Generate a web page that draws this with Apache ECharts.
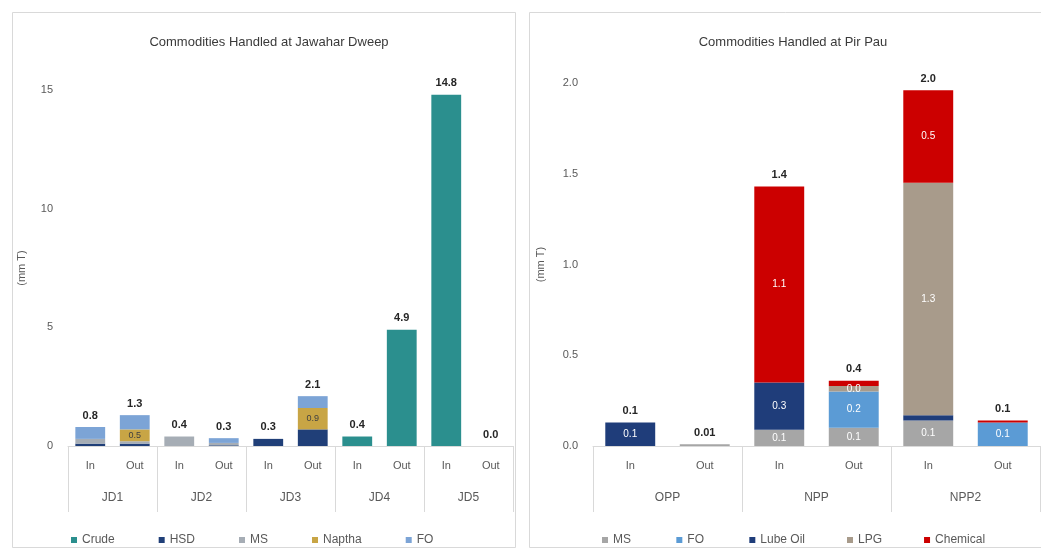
<!DOCTYPE html>
<html>
<head>
<meta charset="utf-8">
<script src="https://cdn.jsdelivr.net/npm/echarts@6/dist/echarts.min.js"></script>
<style>
html,body{margin:0;padding:0;background:#fff;}
#c{width:1041px;height:552px;}
</style>
</head>
<body>
<div id="c"></div>
<script>
// ---------- Data: Jawahar Dweep ----------
const jdSub = ['In','Out','In','Out','In','Out','In','Out','In','Out'];
const jdGroups = ['JD1','JD2','JD3','JD4','JD5'];
const jdCrude  = [0, 0, 0, 0, 0, 0, 0.4, 4.9, 14.8, 0];
const jdHSD    = [0.1, 0.1, 0, 0.03, 0.3, 0.7, 0, 0, 0, 0];
const jdMS     = [0.2, 0.1, 0.4, 0.1, 0, 0, 0, 0, 0, 0];
const jdNaptha = [0, 0.5, 0, 0, 0, 0.9, 0, 0, 0, 0];
const jdFO     = [0.5, 0.6, 0, 0.2, 0, 0.5, 0, 0, 0, 0];
const jdTicks  = [0, 5, 10, 15];

// ---------- Data: Pir Pau ----------
const ppSub = ['In','Out','In','Out','In','Out'];
const ppGroups = ['OPP','NPP','NPP2'];
const ppMS   = [0, 0.01, 0.09, 0.1, 0.14, 0];
const ppFO   = [0, 0, 0, 0.2, 0, 0.13];
const ppLube = [0.13, 0, 0.26, 0, 0.03, 0];
const ppLPG  = [0, 0, 0, 0.03, 1.28, 0];
const ppChem = [0, 0, 1.08, 0.03, 0.51, 0.01];
const ppTicks = [0, 0.5, 1.0, 1.5, 2.0];

const sumArr = (arrs) => arrs[0].map((_, i) => arrs.reduce((s, a) => s + a[i], 0));
const jdTotal = sumArr([jdCrude, jdHSD, jdMS, jdNaptha, jdFO]);
const ppTotal = sumArr([ppMS, ppFO, ppLube, ppLPG, ppChem]);

const FONT = 'Liberation Sans, Arial, sans-serif';
const TXT = '#595959';
const LINE = '#d9d9d9';

const chart = echarts.init(document.getElementById('c'), null, {renderer: 'canvas'});

function segSeries(name, data, color, xi, yi, stack, labelOpt) {
  return {
    name: name, type: 'bar', stack: stack, data: data,
    xAxisIndex: xi, yAxisIndex: yi,
    barCategoryGap: '33%',
    itemStyle: {color: color},
    label: labelOpt || {show: false},
    emphasis: {disabled: true}
  };
}

function totalSeries(totals, xi, yi, stack) {
  return {
    name: 'total', type: 'bar', stack: stack, data: totals.map(() => 0),
    xAxisIndex: xi, yAxisIndex: yi,
    barCategoryGap: '33%',
    itemStyle: {color: 'transparent'},
    label: {
      show: true, position: 'top', distance: 6,
      fontFamily: FONT, fontSize: 11, fontWeight: 'bold', color: '#262626',
      formatter: p => {
        const t = totals[p.dataIndex];
        return (t > 0 && t < 0.05) ? t.toFixed(2) : t.toFixed(1);
      }
    },
    emphasis: {disabled: true}
  };
}

const innerWhite = (minV) => ({
  show: true, position: 'inside', fontFamily: FONT, fontSize: 10, color: '#ffffff',
  formatter: p => (p.value >= minV ? p.value.toFixed(1) : '')
});

const option = {
  animation: false,
  backgroundColor: '#ffffff',
  graphic: [
    {type: 'rect', shape: {x: 12.5, y: 12.5, width: 503, height: 535}, style: {fill: 'none', stroke: LINE, lineWidth: 1}},
    {type: 'rect', shape: {x: 529.5, y: 12.5, width: 520, height: 535}, style: {fill: 'none', stroke: LINE, lineWidth: 1}}
  ],
  title: [
    {text: 'Commodities Handled at Jawahar Dweep', left: 264, top: 31, textAlign: 'center',
     textStyle: {fontFamily: FONT, fontSize: 13, fontWeight: 'normal', color: '#3a3a3a'}},
    {text: 'Commodities Handled at Pir Pau', left: 788, top: 31, textAlign: 'center',
     textStyle: {fontFamily: FONT, fontSize: 13, fontWeight: 'normal', color: '#3a3a3a'}}
  ],
  legend: [
    {data: ['Crude','HSD','MS','Naptha','FO'], left: 66, top: 529, icon: 'rect',
     itemWidth: 6, itemHeight: 6, itemGap: 44,
     textStyle: {fontFamily: FONT, fontSize: 12, color: TXT}},
    {data: ['MS ','FO ','Lube Oil','LPG','Chemical'], left: 597, top: 529, icon: 'rect',
     itemWidth: 6, itemHeight: 6, itemGap: 42,
     textStyle: {fontFamily: FONT, fontSize: 12, color: TXT}}
  ],
  grid: [
    {left: 68, right: 1041 - 513, top: 90, bottom: 552 - 446},
    {left: 593, right: 1, top: 83, bottom: 552 - 446}
  ],
  xAxis: [
    {type: 'category', gridIndex: 0, data: jdSub,
     axisLine: {lineStyle: {color: LINE}}, axisTick: {show: false},
     axisLabel: {margin: 14, fontFamily: FONT, fontSize: 11, color: TXT}},
    {type: 'category', gridIndex: 0, data: jdGroups, position: 'bottom',
     axisLine: {show: false},
     axisTick: {show: true, length: 66, lineStyle: {color: LINE}},
     axisLabel: {margin: 46, fontFamily: FONT, fontSize: 12, color: TXT}},
    {type: 'category', gridIndex: 1, data: ppSub,
     axisLine: {lineStyle: {color: LINE}}, axisTick: {show: false},
     axisLabel: {margin: 14, fontFamily: FONT, fontSize: 11, color: TXT}},
    {type: 'category', gridIndex: 1, data: ppGroups, position: 'bottom',
     axisLine: {show: false},
     axisTick: {show: true, length: 66, lineStyle: {color: LINE}},
     axisLabel: {margin: 46, fontFamily: FONT, fontSize: 12, color: TXT}}
  ],
  yAxis: [
    {type: 'value', gridIndex: 0, min: jdTicks[0], max: jdTicks[jdTicks.length - 1], interval: jdTicks[1] - jdTicks[0],
     name: '(mm T)', nameLocation: 'middle', nameGap: 41,
     nameTextStyle: {fontFamily: FONT, fontSize: 11, color: TXT},
     axisLine: {show: false}, axisTick: {show: false}, splitLine: {show: false},
     axisLabel: {margin: 15, fontFamily: FONT, fontSize: 11, color: TXT}},
    {type: 'value', gridIndex: 1, min: ppTicks[0], max: ppTicks[ppTicks.length - 1], interval: ppTicks[1] - ppTicks[0],
     name: '(mm T)', nameLocation: 'middle', nameGap: 47,
     nameTextStyle: {fontFamily: FONT, fontSize: 11, color: TXT},
     axisLine: {show: false}, axisTick: {show: false}, splitLine: {show: false},
     axisLabel: {margin: 15, fontFamily: FONT, fontSize: 11, color: TXT, formatter: v => v.toFixed(1)}}
  ],
  series: [
    segSeries('Crude', jdCrude, '#2b8f8e', 0, 0, 'L'),
    segSeries('HSD', jdHSD, '#203f78', 0, 0, 'L'),
    segSeries('MS', jdMS, '#a6adb5', 0, 0, 'L'),
    segSeries('Naptha', jdNaptha, '#c8a545', 0, 0, 'L',
      {show: true, position: 'inside', fontFamily: FONT, fontSize: 9, color: '#404040',
       formatter: p => (p.value > 0 ? p.value.toFixed(1) : '')}),
    segSeries('FO', jdFO, '#7ca4d6', 0, 0, 'L'),
    totalSeries(jdTotal, 0, 0, 'L'),

    segSeries('MS ', ppMS, '#a6a6a6', 2, 1, 'R', innerWhite(0.05)),
    segSeries('FO ', ppFO, '#5b9bd5', 2, 1, 'R', innerWhite(0.05)),
    segSeries('Lube Oil', ppLube, '#1f3d7a', 2, 1, 'R', innerWhite(0.05)),
    segSeries('LPG', ppLPG, '#a89b8b', 2, 1, 'R', {
      show: true, position: 'inside', fontFamily: FONT, fontSize: 10, color: '#ffffff',
      formatter: p => (p.value > 0 ? p.value.toFixed(1) : '')}),
    segSeries('Chemical', ppChem, '#cc0000', 2, 1, 'R', innerWhite(0.05)),
    totalSeries(ppTotal, 2, 1, 'R')
  ]
};
chart.setOption(option);
</script>
</body>
</html>
